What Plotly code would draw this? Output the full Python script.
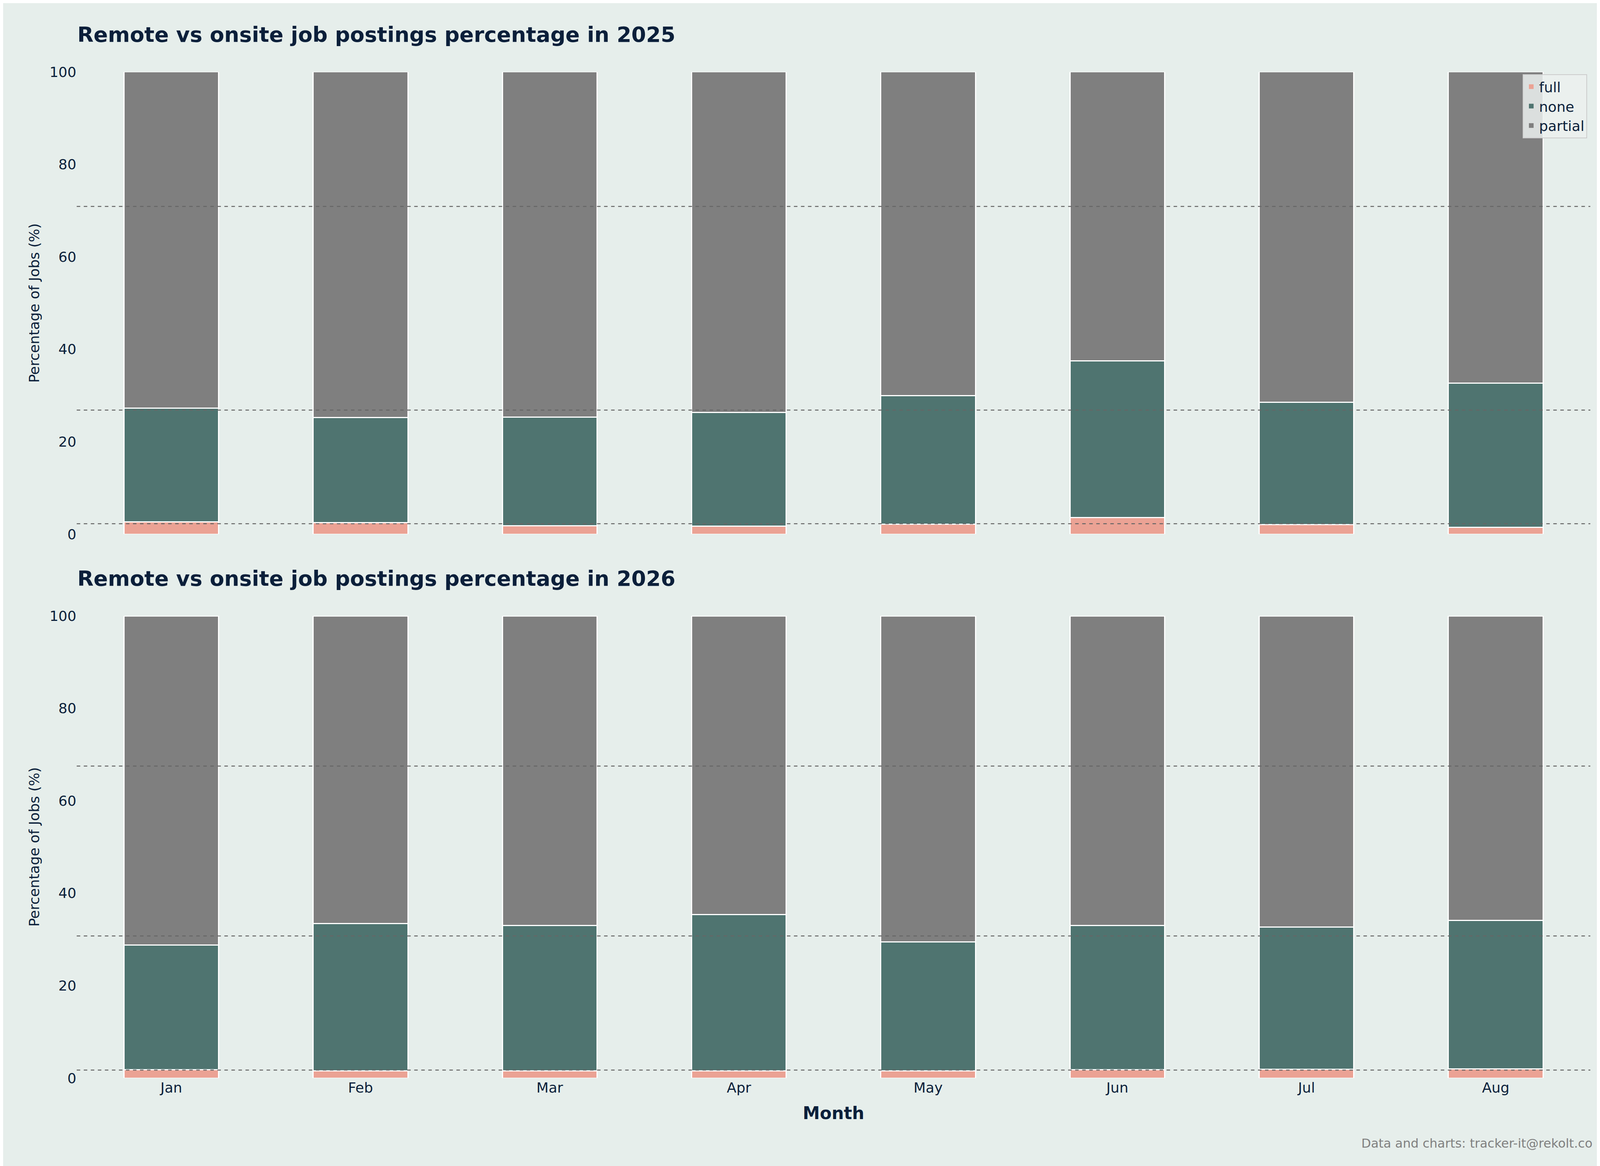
import plotly.graph_objects as go

months = ["Jan", "Feb", "Mar", "Apr", "May", "Jun", "Jul", "Aug"]

full_2025 = [2.7, 2.5, 1.8, 1.7, 2.2, 3.6, 2.1, 1.5]
none_2025 = [24.6, 22.7, 23.5, 24.6, 27.8, 33.9, 26.4, 31.2]
partial_2025 = [72.7, 74.8, 74.7, 73.7, 70.0, 62.5, 71.5, 67.3]

full_2026 = [1.8, 1.6, 1.6, 1.6, 1.6, 1.8, 1.9, 2.0]
none_2026 = [27.0, 31.8, 31.4, 33.8, 27.9, 31.2, 30.8, 32.1]
partial_2026 = [71.2, 66.6, 67.0, 64.6, 70.5, 67.0, 67.3, 65.9]

colors = {"full": "#EBA294", "none": "#4F7470", "partial": "#7F7F7F"}
bg = "#E6EEEB"
navy = "#0B1F3A"

fig = go.Figure()

panels = [
    ("", "y", full_2025, none_2025, partial_2025),
    ("2", "y2", full_2026, none_2026, partial_2026),
]
for suffix, yref, full, none, partial in panels:
    for name, vals in [("full", full), ("none", none), ("partial", partial)]:
        fig.add_trace(go.Bar(
            x=months, y=vals, name=name, marker_color=colors[name],
            marker_line=dict(color="white", width=3), width=0.5,
            xaxis="x" + suffix, yaxis=yref, showlegend=False,
        ))
    # mean lines
    for vals in (full, none, partial):
        m = sum(vals) / len(vals)
        fig.add_shape(type="line", xref="x" + suffix + " domain", yref=yref,
                      x0=0, x1=1, y0=m, y1=m,
                      line=dict(color="#666666", width=2.5, dash="dash"))

# legend entries (no white edge so swatches stay full size)
for name in ["full", "none", "partial"]:
    fig.add_trace(go.Bar(x=[months[0]], y=[None], name=name, marker_color=colors[name],
                         marker_line_width=0, showlegend=True, xaxis="x", yaxis="y"))

tick = dict(size=36, color=navy, family="DejaVu Sans")
common_y = dict(range=[0, 100], tickvals=[0, 20, 40, 60, 80, 100], showgrid=False,
                zeroline=False, showline=False, tickfont=tick, ticks="",
                title=dict(text="Percentage of Jobs (%)", font=dict(size=36, color=navy, family="DejaVu Sans")))

fig.update_layout(
    autosize=True, barmode="stack",
    paper_bgcolor=bg, plot_bgcolor=bg,
    margin=dict(l=0, r=0, t=0, b=0),
    font=dict(family="DejaVu Sans", color=navy),
    xaxis=dict(domain=[0.046, 0.992], anchor="y", showticklabels=False, showgrid=False,
               showline=False, range=[-0.5, 7.5]),
    xaxis2=dict(domain=[0.046, 0.992], anchor="y2", showgrid=False, showline=False,
                range=[-0.5, 7.5], tickfont=tick,
                title=dict(text="<b>Month</b>", font=dict(size=44, color=navy), standoff=30)),
    yaxis=dict(domain=[0.545, 0.947], anchor="x", **common_y),
    yaxis2=dict(domain=[0.072, 0.474], anchor="x2", **common_y),
    legend=dict(x=0.99, y=0.945, xanchor="right", yanchor="top",
                bgcolor="rgba(235,240,238,0.85)", bordercolor="#cccccc", borderwidth=2,
                font=dict(size=36, color=navy), traceorder="normal"),
    annotations=[
        dict(text="<b>Remote vs onsite job postings percentage in 2025</b>", xref="paper", yref="paper",
             x=0.046, y=0.968, xanchor="left", yanchor="bottom", showarrow=False,
             font=dict(size=54, color=navy)),
        dict(text="<b>Remote vs onsite job postings percentage in 2026</b>", xref="paper", yref="paper",
             x=0.046, y=0.495, xanchor="left", yanchor="bottom", showarrow=False,
             font=dict(size=54, color=navy)),
        dict(text="Data and charts: tracker-it@rekolt.co", xref="paper", yref="paper",
             x=0.994, y=0.008, xanchor="right", yanchor="bottom", showarrow=False,
             font=dict(size=32, color="#808080")),
    ],
)

fig.write_html("out.html", default_width="100vw", default_height="100vh",
               config={"responsive": True})
